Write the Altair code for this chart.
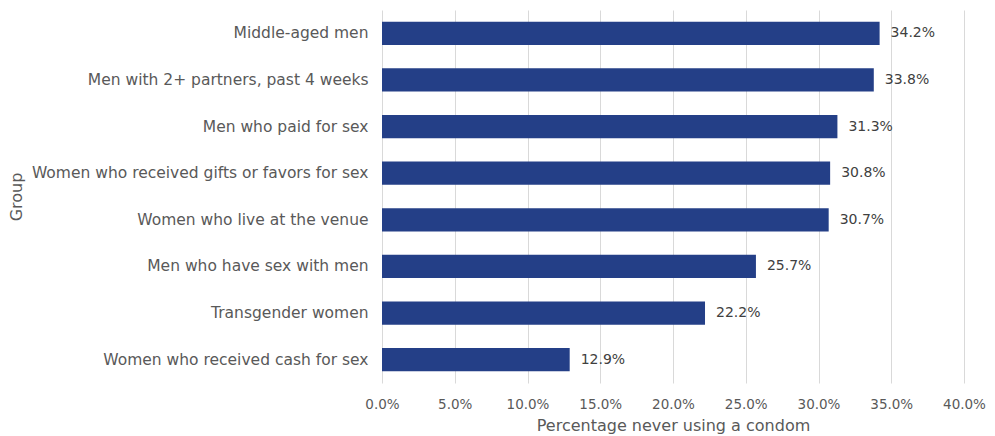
import altair as alt
import pandas as pd

groups = [
    "Middle-aged men",
    "Men with 2+ partners, past 4 weeks",
    "Men who paid for sex",
    "Women who received gifts or favors for sex",
    "Women who live at the venue",
    "Men who have sex with men",
    "Transgender women",
    "Women who received cash for sex",
]
values = [0.342, 0.338, 0.313, 0.308, 0.307, 0.257, 0.222, 0.129]

df = pd.DataFrame({"Group": groups, "Value": values})

FONT = "DejaVu Sans"
GRAY = "#595959"

base = alt.Chart(df).encode(
    y=alt.Y("Group:N", sort=groups, title="Group",
            scale=alt.Scale(paddingInner=0.5, paddingOuter=0.25),
            axis=alt.Axis(domain=False, ticks=False, labelPadding=14,
                          labelFontSize=15.5, labelColor=GRAY, labelFont=FONT,
                          labelLimit=400, titleFont=FONT, titleFontSize=16,
                          titleFontWeight="normal", titleColor=GRAY,
                          titleX=-358, titleAnchor="middle")),
    x=alt.X("Value:Q", title="Percentage never using a condom",
            scale=alt.Scale(domain=[0, 0.4], nice=False),
            axis=alt.Axis(format=".1%", values=[i * 0.05 for i in range(9)],
                          domain=False, ticks=False, labelPadding=14,
                          labelFlush=False,
                          labelFontSize=13.5, labelColor=GRAY, labelFont=FONT,
                          titleFont=FONT, titleFontSize=16, titleFontWeight="normal",
                          titleColor=GRAY, titlePadding=7,
                          grid=True, gridColor="#d9d9d9", gridWidth=1)),
)

bars = base.mark_bar(color="#243F87")
labels = base.mark_text(align="left", dx=11, fontSize=14, font=FONT,
                        color="#404040").encode(text=alt.Text("Value:Q", format=".1%"))

chart = (bars + labels).properties(
    width=582, height=373,
    autosize=alt.AutoSizeParams(type="none"),
    padding={"left": 374, "top": 2, "right": 23, "bottom": 60},
).configure_view(stroke=None)

chart.save("out.html", embed_options={"renderer": "svg", "actions": False})
